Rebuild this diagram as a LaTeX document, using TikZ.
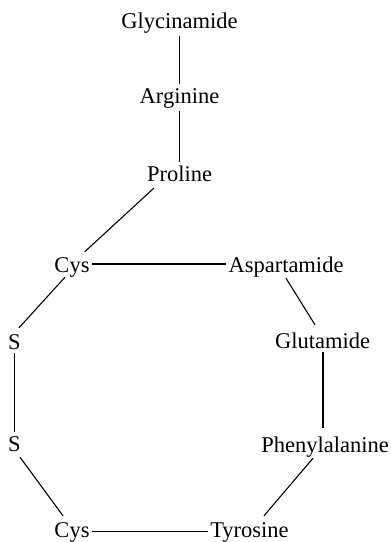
\documentclass[tikz,border=0pt]{standalone}
\usepackage{fontspec}
\setmainfont{Liberation Serif}
\usetikzlibrary{calc}
\begin{document}
\begin{tikzpicture}[x=1pt,y=-1pt,
  residue/.style={anchor=base,inner xsep=2pt,inner ysep=3pt,
    text height=16pt,text depth=5pt,
    font=\fontsize{22.5}{27}\selectfont},
  bond/.style={line width=1.1pt,black}]
\useasboundingbox (0,0) rectangle (391,542);
% tail of the chain
\node[residue] (gly) at (179.5,28) {Glycinamide};
\node[residue] (arg) at (179.5,103) {Arginine};
\node[residue] (pro) at (179.5,181) {Proline};
% ring
\node[residue] (cysa) at (72,272) {Cys};
\node[residue] (asp) at (286,272) {Aspartamide};
\node[residue] (sa) at (14.5,349) {S};
\node[residue] (glu) at (322.5,348) {Glutamide};
\node[residue] (sb) at (14.5,451) {S};
\node[residue] (phe) at (325,452) {Phenylalanine};
\node[residue] (cysb) at (72,537) {Cys};
\node[residue] (tyr) at (249.5,537) {Tyrosine};
% bonds
\draw[bond] (gly) -- (arg);
\draw[bond] (arg) -- (pro);
\draw[bond] ($(pro.south west)+(9,-1)$) -- ($(cysa.north east)+(-7,-1)$);
\draw[bond] ([yshift=2.5pt]cysa.east) -- ([yshift=2.5pt]asp.west);
\draw[bond] ($(asp.south)+(0,-2)$) -- ($(glu.north)+(-7.5,-4)$);
\draw[bond] ($(cysa.south)+(-7,-3)$) -- ($(sa.north)+(4.5,-2)$);
\draw[bond] ($(sa.south)+(0,-4)$) -- (sb.north);
\draw[bond] ($(glu.south)+(0.5,-4)$) -- ($(phe.north)+(-2,-5)$);
\draw[bond] ($(sb.south)+(5.5,-2)$) -- ($(cysb.north)+(-9,-2)$);
\draw[bond] ($(phe.south)+(-12,-2)$) -- ($(tyr.north)+(14.5,-2)$);
\draw[bond] (cysb.east) -- (tyr.west);
\end{tikzpicture}
\end{document}
